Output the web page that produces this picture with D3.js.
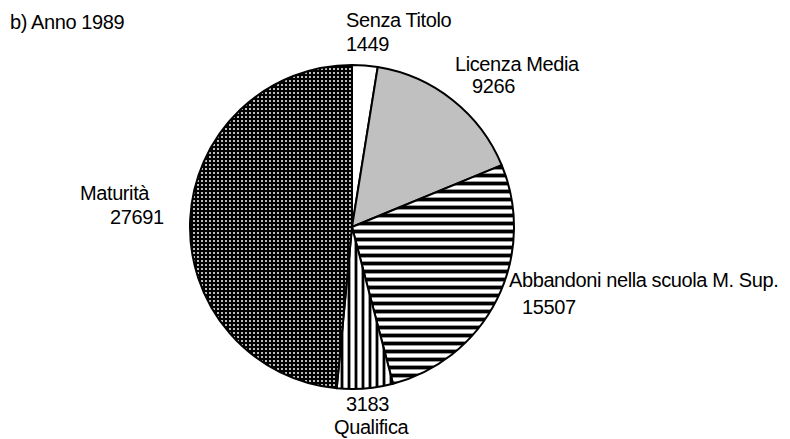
<!DOCTYPE html>
<html>
<head>
<meta charset="utf-8">
<script src="https://cdn.jsdelivr.net/npm/d3@7"></script>
<style>
  body { margin: 0; background: #fff; }
  svg text { font-family: "Liberation Sans", Arial, sans-serif; font-size: 20px; letter-spacing: -0.4px; fill: #000; }
</style>
</head>
<body>
<div id="chart"></div>
<script>
var title = "b) Anno 1989";
var categories = ["Senza Titolo", "Licenza Media", "Abbandoni nella scuola M. Sup.", "Qualifica", "Maturità"];
var values = [1449, 9266, 15507, 3183, 27691];
var fills = ["#fff", "#c0c0c0", "url(#hstripe)", "url(#vstripe)", "url(#dots)"];

var width = 790, height = 439;
var cx = 352, cy = 227, radius = 162;

var svg = d3.select("#chart").append("svg")
    .attr("width", width)
    .attr("height", height);

var defs = svg.append("defs");

// horizontal stripes
var hs = defs.append("pattern").attr("id", "hstripe")
    .attr("patternUnits", "userSpaceOnUse").attr("width", 8).attr("height", 8);
hs.append("rect").attr("width", 8).attr("height", 8).attr("fill", "#fff");
hs.append("rect").attr("y", 2).attr("width", 8).attr("height", 1).attr("fill", "#999");
hs.append("rect").attr("y", 3).attr("width", 8).attr("height", 3).attr("fill", "#000");
hs.append("rect").attr("y", 6).attr("width", 8).attr("height", 1).attr("fill", "#999");

// vertical stripes
var vs = defs.append("pattern").attr("id", "vstripe")
    .attr("patternUnits", "userSpaceOnUse").attr("width", 7).attr("height", 7);
vs.append("rect").attr("width", 7).attr("height", 7).attr("fill", "#fff");
vs.append("rect").attr("x", 2).attr("width", 1).attr("height", 7).attr("fill", "#999");
vs.append("rect").attr("x", 3).attr("width", 2).attr("height", 7).attr("fill", "#000");
vs.append("rect").attr("x", 5).attr("width", 1).attr("height", 7).attr("fill", "#999");

// dotted dark pattern
var dp = defs.append("pattern").attr("id", "dots")
    .attr("patternUnits", "userSpaceOnUse").attr("width", 4).attr("height", 4);
dp.append("rect").attr("width", 4).attr("height", 4).attr("fill", "#000");
dp.append("rect").attr("x", 1).attr("y", 1).attr("width", 2).attr("height", 2).attr("fill", "#bbb");

var pie = d3.pie().sort(null).value(function(d) { return d; });
var arc = d3.arc().innerRadius(0).outerRadius(radius);

var g = svg.append("g").attr("transform", "translate(" + cx + "," + cy + ")");

g.selectAll("path")
    .data(pie(values))
    .enter()
    .append("path")
    .attr("d", arc)
    .attr("fill", function(d, i) { return fills[i]; })
    .attr("stroke", "#000")
    .attr("stroke-width", 2)
    .attr("stroke-linejoin", "round");

svg.append("text").attr("x", 10).attr("y", 29).text(title);

// label layout: name position and value position
var labelPos = [
    { nx: 346, ny: 27, vx: 346, vy: 51 },
    { nx: 455, ny: 71, vx: 472, vy: 93 },
    { nx: 509, ny: 287, vx: 522, vy: 314 },
    { nx: 334, ny: 434, vx: 346, vy: 411 },
    { nx: 80, ny: 200, vx: 110, vy: 224 }
];

var labels = svg.selectAll("g.lbl")
    .data(categories)
    .enter()
    .append("g")
    .attr("class", "lbl");

labels.append("text")
    .attr("x", function(d, i) { return labelPos[i].nx; })
    .attr("y", function(d, i) { return labelPos[i].ny; })
    .text(function(d) { return d; });

labels.append("text")
    .attr("x", function(d, i) { return labelPos[i].vx; })
    .attr("y", function(d, i) { return labelPos[i].vy; })
    .text(function(d, i) { return values[i]; });
</script>
</body>
</html>
